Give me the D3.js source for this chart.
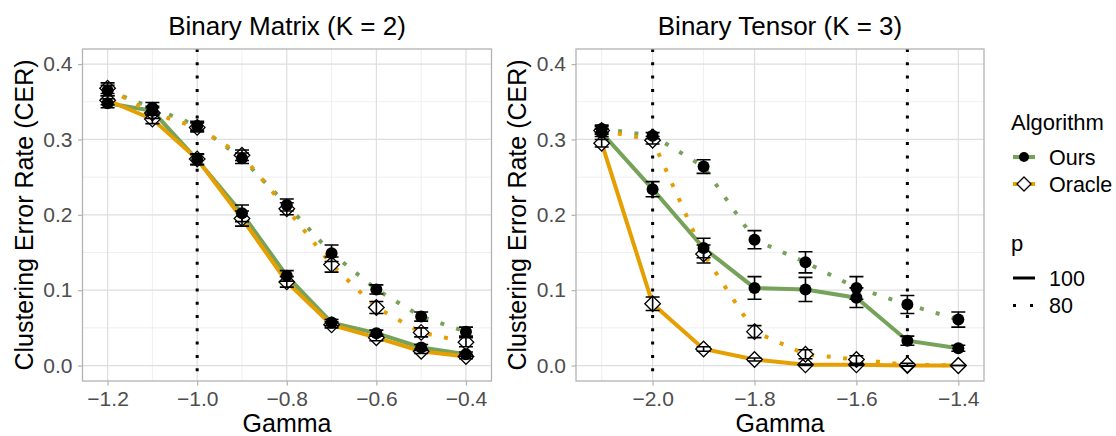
<!DOCTYPE html>
<html>
<head>
<meta charset="utf-8">
<script src="https://cdn.jsdelivr.net/npm/d3@7"></script>
<style>
  body { margin: 0; background: #fff; }
  svg { display: block; font-family: "Liberation Sans", Arial, sans-serif; }
</style>
</head>
<body>
<svg id="chart" width="1116" height="436"></svg>
<script>
// ---- data ----
var matrixGamma = [-1.2, -1.1, -1.0, -0.9, -0.8, -0.7, -0.6, -0.5, -0.4];
var matrixOurs100   = [0.348, 0.338, 0.273, 0.202, 0.119, 0.057, 0.043, 0.024, 0.015];
var matrixOracle100 = [0.352, 0.327, 0.274, 0.195, 0.111, 0.054, 0.037, 0.019, 0.012];
var matrixOurs80    = [0.365, 0.342, 0.318, 0.275, 0.213, 0.149, 0.101, 0.065, 0.045];
var matrixOracle80  = [0.368, 0.335, 0.316, 0.279, 0.208, 0.134, 0.077, 0.044, 0.031];
var matrixOurs100Se   = [0.006, 0.006, 0.007, 0.011, 0.007, 0.004, 0.004, 0.004, 0.003];
var matrixOracle100Se = [0.006, 0.006, 0.007, 0.010, 0.007, 0.004, 0.004, 0.003, 0.003];
var matrixOurs80Se    = [0.007, 0.007, 0.006, 0.007, 0.008, 0.011, 0.006, 0.006, 0.006];
var matrixOracle80Se  = [0.007, 0.007, 0.006, 0.007, 0.008, 0.010, 0.008, 0.006, 0.006];
var matrixRefLines = [-1.0];

var tensorGamma = [-2.1, -2.0, -1.9, -1.8, -1.7, -1.6, -1.5, -1.4];
var tensorOurs100   = [0.309, 0.234, 0.156, 0.103, 0.101, 0.090, 0.033, 0.023];
var tensorOracle100 = [0.295, 0.082, 0.022, 0.008, 0.001, 0.001, 0.000, 0.000];
var tensorOurs80    = [0.314, 0.305, 0.264, 0.167, 0.137, 0.103, 0.081, 0.061];
var tensorOracle80  = [0.312, 0.299, 0.148, 0.045, 0.015, 0.008, 0.001, 0.000];
var tensorOurs100Se   = [0.005, 0.010, 0.013, 0.015, 0.016, 0.013, 0.006, 0.004];
var tensorOracle100Se = [0.005, 0.009, 0.003, 0.002, 0.001, 0.001, 0.000, 0.000];
var tensorOurs80Se    = [0.005, 0.004, 0.009, 0.012, 0.014, 0.015, 0.012, 0.010];
var tensorOracle80Se  = [0.005, 0.005, 0.012, 0.008, 0.006, 0.005, 0.002, 0.000];
var tensorRefLines = [-2.0, -1.5];

var yTicks = [0, 0.1, 0.2, 0.3, 0.4];
var yMinor = [0.05, 0.15, 0.25, 0.35];

var colors = {Ours: "#76A25A", Oracle: "#E69F00"};

function series(gamma, vals, se, alg, p) {
  return {alg: alg, p: p, points: gamma.map(function(g, i) { return {x: g, y: vals[i], se: se[i]}; })};
}

var panels = [
  {
    title: "Binary Matrix (K = 2)",
    left: 82.5, right: 491.5,
    xDomain: [-1.256, -0.343],
    xTicks: [-1.2, -1.0, -0.8, -0.6, -0.4],
    xMinor: [-1.1, -0.9, -0.7, -0.5],
    refLines: matrixRefLines,
    series: [
      series(matrixGamma, matrixOurs100, matrixOurs100Se, "Ours", 100),
      series(matrixGamma, matrixOracle100, matrixOracle100Se, "Oracle", 100),
      series(matrixGamma, matrixOurs80, matrixOurs80Se, "Ours", 80),
      series(matrixGamma, matrixOracle80, matrixOracle80Se, "Oracle", 80)
    ]
  },
  {
    title: "Binary Tensor (K = 3)",
    left: 576, right: 984,
    xDomain: [-2.1504, -1.3496],
    xTicks: [-2.0, -1.8, -1.6, -1.4],
    xMinor: [-2.1, -1.9, -1.7, -1.5],
    refLines: tensorRefLines,
    series: [
      series(tensorGamma, tensorOurs100, tensorOurs100Se, "Ours", 100),
      series(tensorGamma, tensorOracle100, tensorOracle100Se, "Oracle", 100),
      series(tensorGamma, tensorOurs80, tensorOurs80Se, "Ours", 80),
      series(tensorGamma, tensorOracle80, tensorOracle80Se, "Oracle", 80)
    ]
  }
];

var plotTop = 49, plotBottom = 381;
var svg = d3.select("#chart");
var fmtX = function(d) { return d3.format(".1f")(d).replace("-", "\u2212"); };

function diamondPath(r) {
  return "M0," + (-r) + "L" + r + ",0L0," + r + "L" + (-r) + ",0Z";
}

panels.forEach(function(pn) {
  var x = d3.scaleLinear().domain(pn.xDomain).range([pn.left, pn.right]);
  var y = d3.scaleLinear().domain([-0.0205, 0.42]).range([plotBottom, plotTop]);
  var g = svg.append("g");

  // grid
  g.selectAll(".vminor").data(pn.xMinor).join("line")
    .attr("x1", d => x(d)).attr("x2", d => x(d)).attr("y1", plotTop).attr("y2", plotBottom)
    .attr("stroke", "#EBEBEB").attr("stroke-width", 0.8);
  g.selectAll(".hminor").data(yMinor).join("line")
    .attr("x1", pn.left).attr("x2", pn.right).attr("y1", d => y(d)).attr("y2", d => y(d))
    .attr("stroke", "#EBEBEB").attr("stroke-width", 0.8);
  g.selectAll(".vmajor").data(pn.xTicks).join("line")
    .attr("x1", d => x(d)).attr("x2", d => x(d)).attr("y1", plotTop).attr("y2", plotBottom)
    .attr("stroke", "#DEDEDE").attr("stroke-width", 1.2);
  g.selectAll(".hmajor").data(yTicks).join("line")
    .attr("x1", pn.left).attr("x2", pn.right).attr("y1", d => y(d)).attr("y2", d => y(d))
    .attr("stroke", "#DEDEDE").attr("stroke-width", 1.2);

  // reference lines
  g.selectAll(".ref").data(pn.refLines).join("line")
    .attr("x1", d => x(d)).attr("x2", d => x(d)).attr("y1", plotTop).attr("y2", plotBottom)
    .attr("stroke", "#000").attr("stroke-width", 3)
    .attr("stroke-dasharray", "3,10.3");

  // lines
  var line = d3.line().x(d => x(d.x)).y(d => y(d.y));
  pn.series.forEach(function(s) {
    g.append("path").datum(s.points)
      .attr("d", line)
      .attr("fill", "none")
      .attr("stroke", colors[s.alg])
      .attr("stroke-width", 4)
      .attr("stroke-dasharray", s.p === 80 ? "4,12.5" : null);
  });

  // points: diamonds first, filled circles on top
  pn.series.filter(s => s.alg === "Oracle").forEach(function(s) {
    g.selectAll(null).data(s.points).join("path")
      .attr("transform", d => "translate(" + x(d.x) + "," + y(d.y) + ")")
      .attr("d", diamondPath(7.8))
      .attr("fill", "#fff").attr("stroke", "#000").attr("stroke-width", 1.3);
  });
  pn.series.filter(s => s.alg === "Ours").forEach(function(s) {
    g.selectAll(null).data(s.points).join("circle")
      .attr("cx", d => x(d.x)).attr("cy", d => y(d.y)).attr("r", 6)
      .attr("fill", "#000");
  });

  // error bars
  pn.series.forEach(function(s) {
    g.selectAll(null).data(s.points).join("path")
      .attr("d", function(d) {
        var cx = x(d.x), y0 = y(d.y - d.se), y1 = y(d.y + d.se), w = 7;
        return "M" + (cx - w) + "," + y1 + "H" + (cx + w) +
               "M" + cx + "," + y1 + "V" + y0 +
               "M" + (cx - w) + "," + y0 + "H" + (cx + w);
      })
      .attr("fill", "none").attr("stroke", "#000").attr("stroke-width", 1.6);
  });

  // border
  g.append("rect")
    .attr("x", pn.left).attr("y", plotTop)
    .attr("width", pn.right - pn.left).attr("height", plotBottom - plotTop)
    .attr("fill", "none").attr("stroke", "#B3B3B3").attr("stroke-width", 1.3);

  // axes
  var xAxis = g.append("g").attr("transform", "translate(0," + plotBottom + ")")
    .call(d3.axisBottom(x).tickValues(pn.xTicks).tickFormat(fmtX).tickSize(4.5));
  var yAxis = g.append("g").attr("transform", "translate(" + pn.left + ",0)")
    .call(d3.axisLeft(y).tickValues(yTicks).tickFormat(d3.format(".1f")).tickSize(4.5));
  [xAxis, yAxis].forEach(function(a) {
    a.select(".domain").remove();
    a.selectAll(".tick line").attr("stroke", "#B3B3B3").attr("stroke-width", 1.2);
    a.selectAll(".tick text").attr("fill", "#4D4D4D")
      .style("font-size", "21px").style("font-family", "Liberation Sans, Arial, sans-serif");
  });
  xAxis.selectAll(".tick text").attr("dy", "0.71em").attr("y", 10);
  yAxis.selectAll(".tick text").attr("x", -10);

  // titles
  g.append("text")
    .attr("x", (pn.left + pn.right) / 2).attr("y", 35)
    .attr("text-anchor", "middle").style("font-size", "26px").attr("fill", "#000")
    .text(pn.title);
  g.append("text")
    .attr("x", (pn.left + pn.right) / 2).attr("y", 432)
    .attr("text-anchor", "middle").style("font-size", "25px").attr("fill", "#000")
    .text("Gamma");
  g.append("text")
    .attr("transform", "translate(" + (pn.left - 50) + "," + ((plotTop + plotBottom) / 2) + ") rotate(-90)")
    .attr("text-anchor", "middle").style("font-size", "25px").attr("fill", "#000")
    .text("Clustering Error Rate (CER)");
});

// ---- legend ----
var lg = svg.append("g");
var algItems = [{name: "Ours", y: 157}, {name: "Oracle", y: 184}];
var pItems = [{name: "100", y: 278, dash: null}, {name: "80", y: 305.5, dash: "3,14"}];

lg.append("text").attr("x", 1011).attr("y", 130).style("font-size", "22px").text("Algorithm");
algItems.forEach(function(it) {
  lg.append("line").attr("x1", 1013).attr("x2", 1035).attr("y1", it.y).attr("y2", it.y)
    .attr("stroke", colors[it.name]).attr("stroke-width", 4);
  if (it.name === "Ours") {
    lg.append("circle").attr("cx", 1024).attr("cy", it.y).attr("r", 5).attr("fill", "#000");
  } else {
    lg.append("path").attr("transform", "translate(1024," + it.y + ")")
      .attr("d", diamondPath(7)).attr("fill", "#fff").attr("stroke", "#000").attr("stroke-width", 1.3);
  }
  lg.append("text").attr("x", 1049).attr("y", it.y + 7.5).style("font-size", "21.5px").text(it.name);
});

lg.append("text").attr("x", 1011).attr("y", 251).style("font-size", "22px").text("p");
pItems.forEach(function(it) {
  lg.append("line").attr("x1", 1013).attr("x2", 1035).attr("y1", it.y).attr("y2", it.y)
    .attr("stroke", "#000").attr("stroke-width", 3).attr("stroke-dasharray", it.dash);
  lg.append("text").attr("x", 1049).attr("y", it.y + 7.5).style("font-size", "21.5px").text(it.name);
});
</script>
</body>
</html>
